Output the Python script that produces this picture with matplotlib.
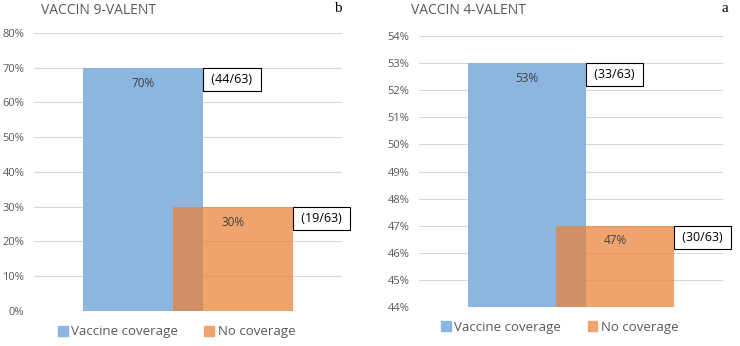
import matplotlib
matplotlib.use("Agg")
import matplotlib.pyplot as plt
from matplotlib.patches import Patch
from matplotlib.ticker import PercentFormatter

plt.rcParams['font.family'] = ['Open Sans', 'DejaVu Sans']

series = ["Vaccine coverage", "No coverage"]
titles = ["VACCIN 9-VALENT", "VACCIN 4-VALENT"]
panel_letters = ["b", "a"]
values_9 = [0.70, 0.30]
values_4 = [0.53, 0.47]
counts_9 = ["(44/63)", "(19/63)"]
counts_4 = ["(33/63)", "(30/63)"]
ylims = [(0, 0.80), (0.44, 0.54)]
ysteps = [0.10, 0.01]

BLUE = "#8cb6e0"
ORANGE = "#ea8238"
GREY = "#595959"

fig = plt.figure(figsize=(7.4, 3.46), dpi=100)
axes = [fig.add_axes([0.0459, 0.1012, 0.4162, 0.8035]),
        fig.add_axes([0.5662, 0.1127, 0.4108, 0.7832])]

xpos = [0.355, 0.645]
width = 0.39

panels = [(values_9, counts_9), (values_4, counts_4)]
for i, ax in enumerate(axes):
    vals, counts = panels[i]
    lo, hi = ylims[i]
    ax.bar(xpos[0], vals[0] - lo, width, bottom=lo, color=BLUE, zorder=2)
    ax.bar(xpos[1], vals[1] - lo, width, bottom=lo, color=ORANGE, alpha=0.73, zorder=3)
    for x, v, c in zip(xpos, vals, counts):
        ax.annotate(f"{v*100:.0f}%", (x, v), xytext=(0, -11), textcoords="offset points",
                    ha="center", va="center", fontsize=8.5, color="#404040", zorder=4)
        ax.annotate(" " + c + " ", (x + width / 2, v), xytext=(3.6, -3.6), textcoords="offset points",
                    ha="left", va="top", fontsize=9, color="black", zorder=5,
                    annotation_clip=False,
                    bbox=dict(boxstyle="square,pad=0.4", fc="white", ec="black", lw=0.8))
    ax.set_xlim(0, 1)
    ax.set_ylim(lo, hi)
    n = int(round((hi - lo) / ysteps[i]))
    ax.set_yticks([lo + k * ysteps[i] for k in range(n + 1)])
    ax.yaxis.set_major_formatter(PercentFormatter(1.0, decimals=0))
    ax.set_xticks([])
    ax.tick_params(axis="y", length=0, pad=7, labelsize=8, labelcolor=GREY)
    ax.grid(axis="y", color="#d9d9d9", lw=0.8, zorder=0)
    for s in ax.spines.values():
        s.set_visible(False)
    handles = [Patch(color=BLUE), Patch(color="#f0a46e")]
    ax.legend(handles, series, loc="center", bbox_to_anchor=(0.463, -0.075), ncol=2,
              frameon=False, handlelength=0.75, handleheight=0.75, handletextpad=0.25,
              columnspacing=2.0, fontsize=9.5, labelcolor=GREY)

fig.text(0.055, 0.971, titles[0], fontsize=10, color=GREY, va="center")
fig.text(0.555, 0.971, titles[1], fontsize=10, color=GREY, va="center")
fig.text(0.456, 0.975, panel_letters[0], fontsize=11, family="Liberation Serif", va="center", ha="center")
fig.text(0.980, 0.975, panel_letters[1], fontsize=11, family="Liberation Serif", va="center", ha="center")

fig.savefig("out.png", dpi=100)
